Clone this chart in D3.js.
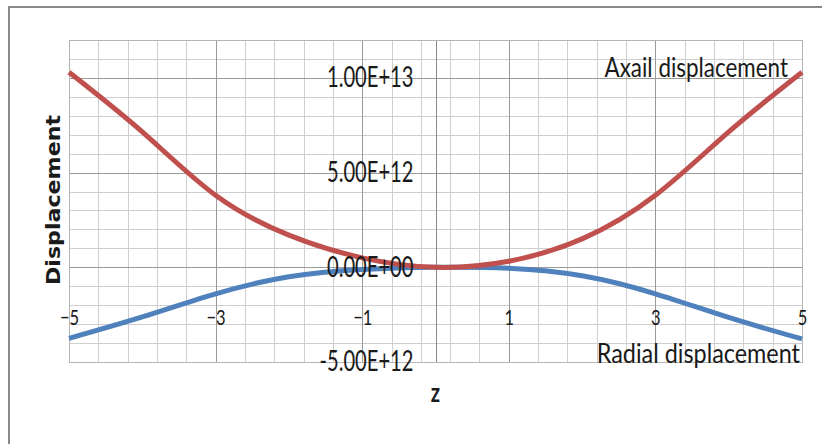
<!DOCTYPE html>
<html>
<head>
<meta charset="utf-8">
<script src="https://cdn.jsdelivr.net/npm/d3@7"></script>
<style>
  body { margin: 0; background: #fff; }
  svg { display: block; }
</style>
</head>
<body>
<svg width="822" height="444"></svg>
<script>
var zVals = [-5, -4, -3, -2, -1, 0, 1, 2, 3, 4, 5];
// axial displacement (E+12 units)
var axial = [10.3, 7.15, 3.8, 1.7, 0.5, 0, 0.32, 1.5, 3.8, 7.15, 10.3];
// radial displacement (E+12 units)
var radial = [-3.75, -2.62, -1.4, -0.5, -0.12, 0, -0.05, -0.45, -1.4, -2.65, -3.78];

var xTicks = [-5, -3, -1, 1, 3, 5];
var yTicks = [-5e12, 0, 5e12, 1e13];
var seriesNames = ["Axail displacement", "Radial displacement"];

var svg = d3.select("svg");

// outer frame
svg.append("path")
  .attr("d", "M9,444 V7 H822")
  .attr("fill", "none")
  .attr("stroke", "#8a8a8a")
  .attr("stroke-width", 2);

var x = d3.scaleLinear().domain([-5, 5]).range([69, 802]);
var y = d3.scaleLinear().domain([-5e12, 1.2e13]).range([362, 40]);

var grid = svg.append("g");

// minor grid
grid.selectAll(".vmin")
  .data(d3.range(0, 26).map(function (i) { return -5 + i * 0.4; }))
  .enter().append("line")
  .attr("x1", function (d) { return Math.round(x(d)) + 0.5; })
  .attr("x2", function (d) { return Math.round(x(d)) + 0.5; })
  .attr("y1", y(1.2e13)).attr("y2", y(-5e12))
  .attr("stroke", "#cfcfcf");

grid.selectAll(".hmin")
  .data(d3.range(-5, 13).map(function (i) { return i * 1e12; }))
  .enter().append("line")
  .attr("y1", function (d) { return Math.round(y(d)) + 0.5; })
  .attr("y2", function (d) { return Math.round(y(d)) + 0.5; })
  .attr("x1", x(-5)).attr("x2", x(5))
  .attr("stroke", "#cfcfcf");

// major grid
grid.selectAll(".vmaj")
  .data(xTicks)
  .enter().append("line")
  .attr("x1", function (d) { return Math.round(x(d)) + 0.5; })
  .attr("x2", function (d) { return Math.round(x(d)) + 0.5; })
  .attr("y1", y(1.2e13)).attr("y2", y(-5e12))
  .attr("stroke", "#9a9a9a");

grid.selectAll(".hmaj")
  .data(yTicks)
  .enter().append("line")
  .attr("y1", function (d) { return Math.round(y(d)) + 0.5; })
  .attr("y2", function (d) { return Math.round(y(d)) + 0.5; })
  .attr("x1", x(-5)).attr("x2", x(5))
  .attr("stroke", "#9a9a9a");

// vertical axis line at z = 0
grid.append("line")
  .attr("x1", Math.round(x(0)) + 0.5).attr("x2", Math.round(x(0)) + 0.5)
  .attr("y1", y(1.2e13)).attr("y2", y(-5e12))
  .attr("stroke", "#8a8a8a");

grid.append("rect")
  .attr("x", x(-5) + 0.5).attr("y", y(1.2e13) + 0.5)
  .attr("width", x(5) - x(-5)).attr("height", y(-5e12) - y(1.2e13))
  .attr("fill", "none").attr("stroke", "#b5b5b5");

// curves
var line = d3.line()
  .x(function (d) { return x(d[0]); })
  .y(function (d) { return y(d[1] * 1e12); })
  .curve(d3.curveNatural);

svg.append("path")
  .datum(zVals.map(function (z, i) { return [z, radial[i]]; }))
  .attr("d", line)
  .attr("fill", "none")
  .attr("stroke", "#4f81bd")
  .attr("stroke-width", 5);

svg.append("path")
  .datum(zVals.map(function (z, i) { return [z, axial[i]]; }))
  .attr("d", line)
  .attr("fill", "none")
  .attr("stroke", "#c0504d")
  .attr("stroke-width", 5);

function squeeze(sel, k) {
  sel.each(function () {
    var w = this.getComputedTextLength();
    d3.select(this).attr("textLength", w * k).attr("lengthAdjust", "spacingAndGlyphs");
  });
}

function sciFmt(v) {
  var p = v.toExponential(2).split("e");
  var e = p[1];
  return p[0] + "E" + e[0] + e.slice(1).padStart(2, "0");
}

// y axis labels next to z = 0
var yAxis = svg.append("g")
  .attr("transform", "translate(" + x(0) + ",0)")
  .call(d3.axisLeft(y).tickValues(yTicks).tickSize(0).tickPadding(22).tickFormat(sciFmt));
yAxis.select(".domain").remove();
yAxis.selectAll("text")
  .attr("font-family", "Lato, 'Open Sans', sans-serif")
  .attr("font-size", "28px")
  .attr("fill", "#1a1a1a")
  .call(squeeze, 0.72);

// x axis labels
var xAxis = svg.append("g")
  .attr("transform", "translate(0," + y(0) + ")")
  .call(d3.axisBottom(x).tickValues(xTicks).tickSize(0).tickPadding(42).tickFormat(d3.format("d")));
xAxis.select(".domain").remove();
xAxis.selectAll("text")
  .attr("font-family", "Lato, 'Open Sans', sans-serif")
  .attr("font-size", "22px")
  .attr("fill", "#1a1a1a")
  .call(squeeze, 0.75);

// series labels
svg.append("text")
  .attr("x", x(5) - 14).attr("y", y(1e13) - 1)
  .attr("text-anchor", "end")
  .attr("font-family", "Lato, 'Open Sans', sans-serif")
  .attr("font-size", "27px")
  .attr("fill", "#1a1a1a")
  .text(seriesNames[0])
  .call(squeeze, 0.83);

svg.append("text")
  .attr("x", x(5) - 2).attr("y", y(-5e12) + 1)
  .attr("text-anchor", "end")
  .attr("font-family", "Lato, 'Open Sans', sans-serif")
  .attr("font-size", "26px")
  .attr("fill", "#1a1a1a")
  .text(seriesNames[1])
  .call(squeeze, 0.9);

// axis titles
svg.append("text")
  .attr("transform", "translate(60,200) rotate(-90)")
  .attr("text-anchor", "middle")
  .attr("font-family", "'DejaVu Sans', Verdana, sans-serif")
  .attr("font-weight", "bold")
  .attr("font-size", "20px")
  .attr("fill", "#1a1a1a")
  .text("Displacement")
  .attr("textLength", 170)
  .attr("lengthAdjust", "spacingAndGlyphs");

svg.append("text")
  .attr("x", x(0)).attr("y", 402)
  .attr("text-anchor", "middle")
  .attr("font-family", "Lato, 'Open Sans', sans-serif")
  .attr("font-weight", "bold")
  .attr("font-size", "27px")
  .attr("fill", "#1a1a1a")
  .text("z")
  .call(squeeze, 0.75);
</script>
</body>
</html>
